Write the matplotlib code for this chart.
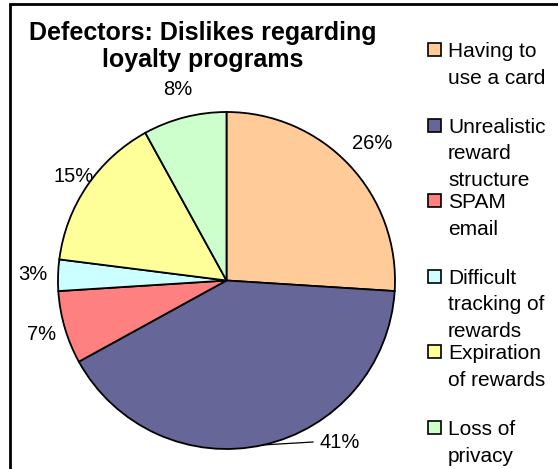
import matplotlib
matplotlib.use("Agg")
import matplotlib.pyplot as plt
from matplotlib.patches import Rectangle
import numpy as np

categories = [["Having to", "use a card"],
              ["Unrealistic", "reward", "structure"],
              ["SPAM", "email"],
              ["Difficult", "tracking of", "rewards"],
              ["Expiration", "of rewards"],
              ["Loss of", "privacy"]]
values = [26, 41, 7, 3, 15, 8]
pct_labels = ["26%", "41%", "7%", "3%", "15%", "8%"]
colors = ["#FFCC99", "#666699", "#FF8080", "#CCFFFF", "#FFFF99", "#CCFFCC"]
title_lines = ["Defectors: Dislikes regarding", "loyalty programs"]

label_dist = [1.19, 1.16, 1.14, 1.15, 1.10, 1.17]

W, H = 558, 469
fig = plt.figure(figsize=(W / 100, H / 100), dpi=100)
fig.patch.set_facecolor("white")
FONT = "Liberation Sans"

# border
fig.patches.append(Rectangle((9.5 / W, -0.1), 1.2, 1.1 - 4.5 / H, transform=fig.transFigure,
                             fill=False, edgecolor="black", linewidth=2))

# pie axes
cx, cy, R = 226.5, 280.5, 168.5
ax = fig.add_axes([(cx - R) / W, (H - cy - R) / H, 2 * R / W, 2 * R / H])
wedges, _ = ax.pie(values, colors=colors, startangle=90, counterclock=False,
                   radius=1,
                   wedgeprops=dict(edgecolor="black", linewidth=1.3))
ax.set_aspect("auto")
ax.set_xlim(-1, 1)
ax.set_ylim(-1, 1)
ax.axis("off")
for wd in wedges:
    wd.set_clip_on(False)

for i, (wd, lab, d) in enumerate(zip(wedges, pct_labels, label_dist)):
    mid = np.deg2rad((wd.theta1 + wd.theta2) / 2)
    ex, ey = np.cos(mid), np.sin(mid)
    if i == 1:
        lx, ly = (340 - cx) / R, (cy - 442) / R
        ax.plot([ex, (313 - cx) / R], [ey, ly], color="black", lw=0.9, clip_on=False)
    else:
        lx, ly = d * ex, d * ey
    ax.text(lx, ly, lab, ha="center", va="center", fontsize=14.5, family=FONT,
            color="black", clip_on=False)

# title
fig.text(203 / W, 1 - 40 / H, title_lines[0], ha="center", va="baseline",
         fontsize=18, fontweight="bold", family=FONT)
fig.text(203 / W, 1 - 67 / H, title_lines[1], ha="center", va="baseline",
         fontsize=18, fontweight="bold", family=FONT)

# legend
for i, (lines, c) in enumerate(zip(categories, colors)):
    b0 = 57 + 75.6 * i
    sc = b0 - 7.5
    fig.patches.append(Rectangle((428 / W, 1 - (sc + 6.5) / H), 13 / W, 13 / H,
                                 transform=fig.transFigure, facecolor=c,
                                 edgecolor="black", linewidth=1.2))
    for k, line in enumerate(lines):
        fig.text(448 / W, 1 - (b0 + 26.5 * k) / H, line, ha="left", va="baseline",
                 fontsize=15, family=FONT)

fig.savefig("out.png", dpi=100)
